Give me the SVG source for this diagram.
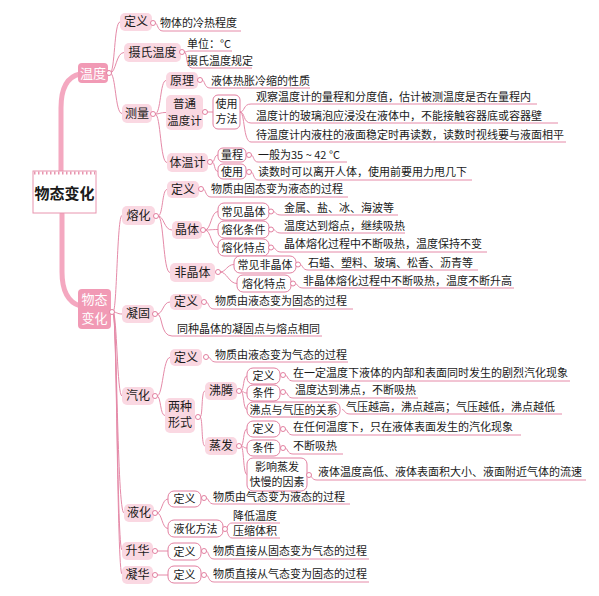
<svg xmlns="http://www.w3.org/2000/svg" width="599" height="596" viewBox="0 0 599 596">
<style>
.c{fill:none;stroke:#e58aa8;stroke-width:1}
.thick{fill:none;stroke:#f4a8c0;stroke-width:5;stroke-linecap:round}
.n1{fill:#f19ab5}
.n2{fill:#fad8e2}
.wb{fill:#fff;stroke:#e27fa0;stroke-width:1}
.dot{fill:#fff;stroke:#e27fa0;stroke-width:1}
text{font-family:"Noto Sans CJK SC","Noto Sans",sans-serif;fill:#1a1a1a}
.t{font-size:11px}
.tn{font-size:12px;text-anchor:middle}
.tw{font-size:11px;text-anchor:middle}
.t1{font-size:13px;text-anchor:middle;fill:#fff}
.root{font-size:15px;font-weight:bold;text-anchor:middle}
</style>
<rect width="599" height="596" fill="#fff"/>

<g id="connectors">
  <path class="thick" d="M61,172 L61,108 Q61,78 80,74"/>
  <path class="thick" d="M62,214 L62,272 Q62,300 80,306"/>
  <path class="c" d="M110,73 C115,73 114,22 120,22"/>
  <path class="c" d="M110,73 C116,73 116,52.5 124,52.5"/>
  <path class="c" d="M110,73 C116,73 115,113.5 122,113.5"/>
  <path class="c" d="M155,23 C158,23 157,31 163,31 H241"/>
  <path class="c" d="M184,52 C187,52 186,51 191,51 H232"/>
  <path class="c" d="M184,52 C188,52 185,68 192,68 H252"/>
  <path class="c" d="M155,114 C161,114 160,80.5 166,80.5"/>
  <path class="c" d="M155,114 C160,114 160,112.5 166,112.5"/>
  <path class="c" d="M155,114 C161,114 160,162.5 167,162.5"/>
  <path class="c" d="M202,80 C205,80 204,88 210,88 H310"/>
  <path class="c" d="M207,112 H213"/>
  <path class="c" d="M240,112 C245,112 243,104 251,104 H537"/>
  <path class="c" d="M240,112 C245,112 243,123 251,123 H558"/>
  <path class="c" d="M240,112 C245,112 243,142 251,142 H566"/>
  <path class="c" d="M212,162 C215,162 214,155 218,155"/>
  <path class="c" d="M212,162 C215,162 214,171.5 218,171.5"/>
  <path class="c" d="M251,155 C254,155 253,162 258,162 H347"/>
  <path class="c" d="M251,172 C254,172 253,180 258,180 H472"/>
  <path class="c" d="M113,312 C117,312 117,215.5 122,215.5"/>
  <path class="c" d="M113,312 C117,312 117,314 122,314"/>
  <path class="c" d="M113,312 C117,312 117,396 122,396"/>
  <path class="c" d="M113,312 C117,312 117,513 124,513"/>
  <path class="c" d="M113,312 C117,312 117,550 122,550"/>
  <path class="c" d="M113,312 C117,312 117,574 122,574"/>
  <path class="c" d="M158,216 C163,216 162,189.5 167,189.5"/>
  <path class="c" d="M158,216 C164,216 164,230 172,230"/>
  <path class="c" d="M158,216 C164,216 163,272.5 170,272.5"/>
  <path class="c" d="M203,189 C206,189 205,197 211,197 H348"/>
  <path class="c" d="M205,230 C211,230 211,211.5 218,211.5"/>
  <path class="c" d="M205,230 C211,230 211,229.5 218,229.5"/>
  <path class="c" d="M205,230 C211,230 211,247.5 218,247.5"/>
  <path class="c" d="M273,211.5 C276,211.5 275,215 281,215 H398"/>
  <path class="c" d="M273,229.5 C276,229.5 275,233 281,233 H405"/>
  <path class="c" d="M273,247.5 C276,247.5 275,252 281,252 H487"/>
  <path class="c" d="M220,272 C226,272 227,264.5 234,264.5"/>
  <path class="c" d="M220,272 C227,272 229,283.5 237,283.5"/>
  <path class="c" d="M300,264.5 C303,264.5 302,270 308,270 H478"/>
  <path class="c" d="M295,283.5 C298,283.5 297,288 303,288 H514"/>
  <path class="c" d="M157,314 C163,314 163,302 170,302"/>
  <path class="c" d="M157,314 C163,314 160,336 172,336 H322"/>
  <path class="c" d="M206,302 C209,302 208,309 214,309 H353"/>
  <path class="c" d="M157,396 C163,396 163,357.5 170,357.5"/>
  <path class="c" d="M157,396 C161,396 160,415.5 165,415.5"/>
  <path class="c" d="M208,357 C211,357 210,362 216,362 H348"/>
  <path class="c" d="M200,417 C203,417 201,391 205,391"/>
  <path class="c" d="M200,417 C203,417 201,446 205,446"/>
  <path class="c" d="M241,391 C244,391 243,376 247,376"/>
  <path class="c" d="M241,391 C244,391 243,393 247,393"/>
  <path class="c" d="M241,391 C244,391 243,409.5 247,409.5"/>
  <path class="c" d="M285,375 C288,375 287,381 293,381 H570"/>
  <path class="c" d="M285,392 C288,392 287,398 293,398 H418"/>
  <path class="c" d="M342,409.5 C345,409.5 344,414 350,414 H562"/>
  <path class="c" d="M241,446 C244,446 243,429 247,429"/>
  <path class="c" d="M241,446 C244,446 243,448 247,448"/>
  <path class="c" d="M241,446 C244,446 243,474.5 247,474.5"/>
  <path class="c" d="M285,429 C288,429 287,435 293,435 H521"/>
  <path class="c" d="M285,448 C288,448 287,454 293,454 H343"/>
  <path class="c" d="M309,475 C312,475 311,480 317,480 H586"/>
  <path class="c" d="M157,513 C162,513 162,499 168,499"/>
  <path class="c" d="M157,513 C162,513 162,528.5 168,528.5"/>
  <path class="c" d="M206,498 C209,498 208,504 214,504 H350"/>
  <path class="c" d="M225,529 C228,529 227,523 232,523 H280"/>
  <path class="c" d="M225,529 C228,529 227,538 232,538 H280"/>
  <path class="c" d="M157,551 H168"/>
  <path class="c" d="M206,551 C209,551 208,559 214,559 H369"/>
  <path class="c" d="M157,575 H168"/>
  <path class="c" d="M206,575 C209,575 208,582 214,582 H369"/>
</g>

<g id="root">
  <rect x="33" y="171" width="63" height="42" fill="#fff" stroke="#e894ae" stroke-width="1"/>
  <line x1="34" y1="173" x2="95" y2="173" stroke="#e894ae" stroke-width="3" stroke-dasharray="1.5,2.5"/>
  <text class="root" x="64.5" y="199">物态变化</text>
</g>

<g id="wendu">
  <rect class="n1" x="78" y="63" width="30" height="20" rx="4"/>
  <text class="t1" x="93" y="77.5">温度</text>
  <circle class="dot" cx="109" cy="73" r="2.5"/>
</g>
<g id="wutai">
  <rect class="n1" x="78" y="289" width="33" height="40" rx="4"/>
  <text class="t1" x="94.5" y="304">物态</text>
  <text class="t1" x="94.5" y="323">变化</text>
  <circle class="dot" cx="112" cy="312" r="2.5"/>
</g>

<g id="wd-dingyi">
  <rect class="n2" x="120" y="13" width="32" height="18" rx="5"/>
  <text class="tn" x="136" y="26">定义</text>
  <circle class="dot" cx="153" cy="23" r="2.5"/>
  <text class="t" x="160" y="27">物体的冷热程度</text>
</g>
<g id="wd-sheshi">
  <rect class="n2" x="124" y="43" width="57" height="19" rx="5"/>
  <text class="tn" x="152.5" y="56.5">摄氏温度</text>
  <circle class="dot" cx="182" cy="52" r="2.5"/>
  <text class="t" x="187" y="48">单位：°C</text>
  <text class="t" x="187" y="65">摄氏温度规定</text>
</g>
<g id="wd-celiang">
  <rect class="n2" x="122" y="104" width="30" height="19" rx="5"/>
  <text class="tn" x="137" y="117.5">测量</text>
  <circle class="dot" cx="153" cy="114" r="2.5"/>
</g>
<g id="cl-yuanli">
  <rect class="n2" x="166" y="72" width="32" height="17" rx="5"/>
  <text class="tn" x="182" y="84.5">原理</text>
  <circle class="dot" cx="200" cy="80" r="2.5"/>
  <text class="t" x="211" y="85">液体热胀冷缩的性质</text>
</g>
<g id="cl-putong">
  <rect class="n2" x="166" y="95" width="37" height="35" rx="5"/>
  <text class="tn" x="184.5" y="108" style="font-size:11.5px">普通</text>
  <text class="tn" x="184.5" y="125" style="font-size:11.5px">温度计</text>
  <circle class="dot" cx="205" cy="112" r="2.5"/>
</g>
<g id="cl-shiyong">
  <rect class="wb" x="213" y="95" width="27" height="34" rx="5"/>
  <text class="tw" x="226.5" y="108">使用</text>
  <text class="tw" x="226.5" y="123">方法</text>
  <text class="t" x="256" y="101">观察温度计的量程和分度值，估计被测温度是否在量程内</text>
  <text class="t" x="256" y="120">温度计的玻璃泡应浸没在液体中，不能接触容器底或容器壁</text>
  <text class="t" x="256" y="139">待温度计内液柱的液面稳定时再读数，读数时视线要与液面相平</text>
</g>
<g id="cl-tiwen">
  <rect class="n2" x="167" y="153" width="41" height="19" rx="5"/>
  <text class="tn" x="187.5" y="166.5">体温计</text>
  <circle class="dot" cx="210" cy="162" r="2.5"/>
  <rect class="wb" x="218" y="148" width="28" height="14" rx="5"/>
  <text class="tw" x="232" y="159">量程</text>
  <circle class="dot" cx="249" cy="155" r="2.5"/>
  <text class="t" x="258" y="159">一般为35 ~ 42 °C</text>
  <rect class="wb" x="218" y="164" width="28" height="15" rx="5"/>
  <text class="tw" x="232" y="175.5">使用</text>
  <circle class="dot" cx="249" cy="172" r="2.5"/>
  <text class="t" x="258" y="176">读数时可以离开人体，使用前要用力甩几下</text>
</g>

<g id="ronghua">
  <rect class="n2" x="122" y="206" width="33" height="19" rx="5"/>
  <text class="tn" x="138.5" y="219.5">熔化</text>
  <circle class="dot" cx="156" cy="216" r="2.5"/>
</g>
<g id="rh-dingyi">
  <rect class="n2" x="167" y="181" width="32" height="17" rx="5"/>
  <text class="tn" x="183" y="193.5">定义</text>
  <circle class="dot" cx="201" cy="189" r="2.5"/>
  <text class="t" x="211" y="193">物质由固态变为液态的过程</text>
</g>
<g id="rh-jingti">
  <rect class="n2" x="172" y="221" width="30" height="18" rx="5"/>
  <text class="tn" x="187" y="234">晶体</text>
  <circle class="dot" cx="203" cy="230" r="2.5"/>
  <rect class="wb" x="218" y="203" width="51" height="17" rx="6"/>
  <text class="tw" x="243.5" y="215.5">常见晶体</text>
  <circle class="dot" cx="271" cy="211.5" r="2.5"/>
  <text class="t" x="284" y="212">金属、盐、冰、海波等</text>
  <rect class="wb" x="218" y="221" width="51" height="17" rx="6"/>
  <text class="tw" x="243.5" y="233.5">熔化条件</text>
  <circle class="dot" cx="271" cy="229.5" r="2.5"/>
  <text class="t" x="284" y="230">温度达到熔点，继续吸热</text>
  <rect class="wb" x="218" y="239" width="51" height="17" rx="6"/>
  <text class="tw" x="243.5" y="251.5">熔化特点</text>
  <circle class="dot" cx="271" cy="247.5" r="2.5"/>
  <text class="t" x="284" y="248">晶体熔化过程中不断吸热，温度保持不变</text>
</g>
<g id="rh-feijingti">
  <rect class="n2" x="170" y="263" width="45" height="19" rx="5"/>
  <text class="tn" x="192.5" y="276.5">非晶体</text>
  <circle class="dot" cx="218" cy="272" r="2.5"/>
  <rect class="wb" x="234" y="256" width="62" height="17" rx="6"/>
  <text class="tw" x="265" y="268.5">常见非晶体</text>
  <circle class="dot" cx="298" cy="264.5" r="2.5"/>
  <text class="t" x="308" y="267">石蜡、塑料、玻璃、松香、沥青等</text>
  <rect class="wb" x="237" y="275" width="54" height="17" rx="6"/>
  <text class="tw" x="264" y="287.5">熔化特点</text>
  <circle class="dot" cx="293" cy="283.5" r="2.5"/>
  <text class="t" x="303" y="285">非晶体熔化过程中不断吸热，温度不断升高</text>
</g>

<g id="ninggu">
  <rect class="n2" x="122" y="305" width="32" height="18" rx="5"/>
  <text class="tn" x="138" y="318">凝固</text>
  <circle class="dot" cx="155" cy="314" r="2.5"/>
  <rect class="n2" x="170" y="294" width="32" height="16" rx="5"/>
  <text class="tn" x="186" y="306">定义</text>
  <circle class="dot" cx="204" cy="302" r="2.5"/>
  <text class="t" x="215" y="305">物质由液态变为固态的过程</text>
  <text class="t" x="177" y="333">同种晶体的凝固点与熔点相同</text>
</g>

<g id="qihua">
  <rect class="n2" x="122" y="387" width="32" height="18" rx="5"/>
  <text class="tn" x="138" y="400">汽化</text>
  <circle class="dot" cx="155" cy="396" r="2.5"/>
</g>
<g id="qh-dingyi">
  <rect class="n2" x="170" y="349" width="32" height="17" rx="5"/>
  <text class="tn" x="186" y="361.5">定义</text>
  <circle class="dot" cx="206" cy="357" r="2.5"/>
  <text class="t" x="215" y="359">物质由液态变为气态的过程</text>
</g>
<g id="qh-liangzhong">
  <rect class="n2" x="165" y="398" width="30" height="35" rx="5"/>
  <text class="tn" x="180" y="411">两种</text>
  <text class="tn" x="180" y="427">形式</text>
  <circle class="dot" cx="198" cy="417" r="2.5"/>
</g>
<g id="qh-feiteng">
  <rect class="n2" x="205" y="382" width="32" height="18" rx="5"/>
  <text class="tn" x="221" y="395">沸腾</text>
  <circle class="dot" cx="239" cy="391" r="2.5"/>
  <rect class="wb" x="247" y="368" width="33" height="16" rx="6"/>
  <text class="tw" x="263.5" y="380">定义</text>
  <circle class="dot" cx="283" cy="375" r="2.5"/>
  <text class="t" x="293" y="377">在一定温度下液体的内部和表面同时发生的剧烈汽化现象</text>
  <rect class="wb" x="247" y="385" width="33" height="16" rx="6"/>
  <text class="tw" x="263.5" y="397">条件</text>
  <circle class="dot" cx="283" cy="392" r="2.5"/>
  <text class="t" x="295" y="394">温度达到沸点，不断吸热</text>
  <rect class="wb" x="247" y="402" width="93" height="15" rx="6"/>
  <text class="tw" x="293.5" y="413.5">沸点与气压的关系</text>
  <text class="t" x="346" y="411">气压越高，沸点越高；气压越低，沸点越低</text>
</g>
<g id="qh-zhengfa">
  <rect class="n2" x="205" y="437" width="32" height="18" rx="5"/>
  <text class="tn" x="221" y="450">蒸发</text>
  <circle class="dot" cx="239" cy="446" r="2.5"/>
  <rect class="wb" x="247" y="421" width="33" height="16" rx="6"/>
  <text class="tw" x="263.5" y="433">定义</text>
  <circle class="dot" cx="283" cy="429" r="2.5"/>
  <text class="t" x="293" y="431">在任何温度下，只在液体表面发生的汽化现象</text>
  <rect class="wb" x="247" y="440" width="33" height="16" rx="6"/>
  <text class="tw" x="263.5" y="452">条件</text>
  <circle class="dot" cx="283" cy="448" r="2.5"/>
  <text class="t" x="293" y="450">不断吸热</text>
  <rect class="wb" x="247" y="458" width="60" height="33" rx="6"/>
  <text class="tw" x="277" y="471">影响蒸发</text>
  <text class="tw" x="277" y="486">快慢的因素</text>
  <circle class="dot" cx="309" cy="475" r="2.5"/>
  <text class="t" x="318" y="476">液体温度高低、液体表面积大小、液面附近气体的流速</text>
</g>

<g id="yehua">
  <rect class="n2" x="124" y="504" width="30" height="18" rx="5"/>
  <text class="tn" x="139" y="517">液化</text>
  <circle class="dot" cx="155" cy="513" r="2.5"/>
  <rect class="wb" x="168" y="491" width="33" height="16" rx="6"/>
  <text class="tw" x="184.5" y="503">定义</text>
  <circle class="dot" cx="204" cy="498" r="2.5"/>
  <text class="t" x="213" y="501">物质由气态变为液态的过程</text>
  <rect class="wb" x="168" y="520" width="55" height="17" rx="6"/>
  <text class="tw" x="195.5" y="532.5">液化方法</text>
  <circle class="dot" cx="225" cy="529" r="2.5"/>
  <text class="t" x="233" y="520">降低温度</text>
  <text class="t" x="233" y="535">压缩体积</text>
</g>

<g id="shenghua">
  <rect class="n2" x="122" y="542" width="31" height="18" rx="5"/>
  <text class="tn" x="137.5" y="555">升华</text>
  <circle class="dot" cx="155" cy="551" r="2.5"/>
  <rect class="wb" x="168" y="543" width="33" height="17" rx="6"/>
  <text class="tw" x="184.5" y="555.5">定义</text>
  <circle class="dot" cx="204" cy="551" r="2.5"/>
  <text class="t" x="213" y="555">物质直接从固态变为气态的过程</text>
</g>

<g id="ninghua">
  <rect class="n2" x="122" y="566" width="31" height="18" rx="5"/>
  <text class="tn" x="137.5" y="579">凝华</text>
  <circle class="dot" cx="155" cy="575" r="2.5"/>
  <rect class="wb" x="168" y="566" width="33" height="17" rx="6"/>
  <text class="tw" x="184.5" y="578.5">定义</text>
  <circle class="dot" cx="204" cy="575" r="2.5"/>
  <text class="t" x="213" y="578">物质直接从气态变为固态的过程</text>
</g>
</svg>
